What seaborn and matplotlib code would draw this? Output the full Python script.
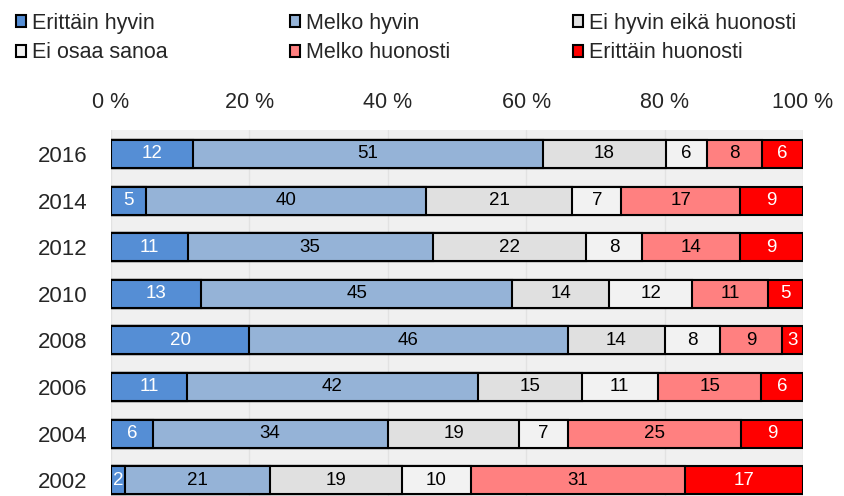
import numpy as np
import matplotlib
matplotlib.use("Agg")
import matplotlib.pyplot as plt
import seaborn as sns
from matplotlib.patches import Patch

years = ["2016", "2014", "2012", "2010", "2008", "2006", "2004", "2002"]
categories = ["Erittäin hyvin", "Melko hyvin", "Ei hyvin eikä huonosti",
              "Ei osaa sanoa", "Melko huonosti", "Erittäin huonosti"]
erittain_hyvin = [12, 5, 11, 13, 20, 11, 6, 2]
melko_hyvin = [51, 40, 35, 45, 46, 42, 34, 21]
ei_hyvin_eika = [18, 21, 22, 14, 14, 15, 19, 19]
ei_osaa = [6, 7, 8, 12, 8, 11, 7, 10]
melko_huonosti = [8, 17, 14, 11, 9, 15, 25, 31]
erittain_huonosti = [6, 9, 9, 5, 3, 6, 9, 17]

colors = ["#558ED5", "#95B3D7", "#E0E0E0", "#F2F2F2", "#FF8080", "#FF0000"]
text_colors = ["white", "black", "black", "black", "black", "white"]

sns.set_style("white")
plt.rcParams["font.family"] = ["Liberation Sans", "DejaVu Sans"]

vals = np.array([erittain_hyvin, melko_hyvin, ei_hyvin_eika,
                 ei_osaa, melko_huonosti, erittain_huonosti], dtype=float)
pct = vals / vals.sum(axis=0) * 100
cum = np.cumsum(pct, axis=0)

fig = plt.figure(figsize=(8.44, 4.96), dpi=100)
ax = fig.add_axes([111 / 844, 0, 692 / 844, 1 - 130 / 496])
ax.set_facecolor("#F0F0F0")

# draw cumulative bars from the widest down so each segment shows
for i in range(len(categories) - 1, -1, -1):
    sns.barplot(x=cum[i], y=years, orient="h", color=colors[i],
                saturation=1, edgecolor="black", linewidth=1.5,
                width=0.6, ax=ax, zorder=3)

for i in range(len(categories)):
    left = cum[i] - pct[i]
    for j, yr in enumerate(years):
        ax.text(left[j] + pct[i][j] / 2, j, f"{int(vals[i][j])}",
                ha="center", va="center", fontsize=13.5,
                color=text_colors[i], zorder=4)

ax.set_xlim(0, 100)
ax.set_ylim(7.34, -0.515)
ax.set_xticks(range(0, 101, 20))
ax.set_xticklabels([f"{t} %" for t in range(0, 101, 20)])
ax.xaxis.tick_top()
ax.tick_params(axis="x", length=0, pad=12, labelsize=15.5)
ax.tick_params(axis="y", length=0, pad=17, labelsize=16)
ax.grid(axis="x", color="#E2E2E2", linewidth=1, zorder=0)
ax.set_axisbelow(True)
ax.set_xlabel("")
ax.set_ylabel("")
for s in ax.spines.values():
    s.set_visible(False)

handles = [Patch(facecolor=c, edgecolor="black", linewidth=1.5) for c in colors]
col_x = [16, 290, 573]
for k in range(3):
    fig.legend([handles[k], handles[k + 3]], [categories[k], categories[k + 3]],
               loc="center left", bbox_to_anchor=(col_x[k] / 844, 1 - 38 / 496),
               frameon=False, fontsize=15.5, handlelength=0.48, handleheight=0.48,
               handletextpad=0.28, labelspacing=0.4, borderpad=0, borderaxespad=0)

fig.savefig("out.png", dpi=100)
